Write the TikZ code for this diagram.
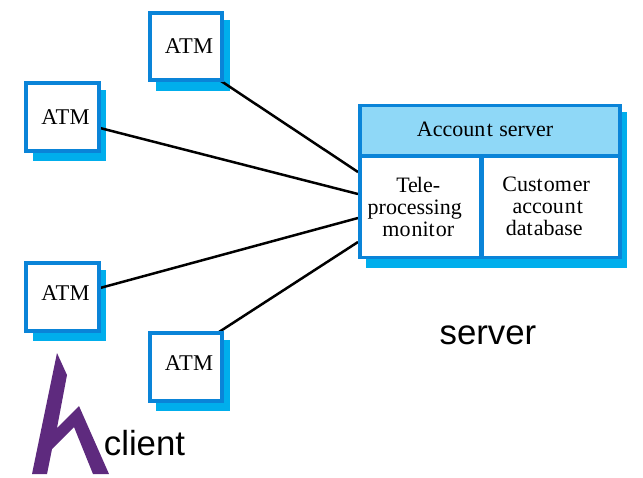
\documentclass[tikz,border=0pt]{standalone}
\usepackage{fontspec}
\setmainfont{Liberation Serif}
\newfontfamily\labelfont{Liberation Sans}
\definecolor{boxblue}{HTML}{0A84D8}
\definecolor{shadowblue}{HTML}{00AEEC}
\definecolor{headblue}{HTML}{8FD8F7}
\definecolor{hatpurple}{HTML}{5E2A7E}
\tikzset{
  atmbox/.style={draw=boxblue,fill=white,line width=3.6pt,minimum width=72.5pt,minimum height=67.5pt,inner sep=0pt,font=\fontsize{22.5}{22}\selectfont},
  cell/.style={draw=boxblue,line width=3.6pt,inner sep=0pt,align=center,font=\fontsize{22}{22}\selectfont},
  shade/.style={fill=shadowblue},
  link/.style={draw=black,line width=2.5pt},
  biglabel/.style={font=\labelfont\fontsize{34.8}{36}\selectfont,inner sep=0pt,anchor=base}
}
\newcommand{\atmtext}{\hspace*{6pt}A\kern-2pt T\kern0.5pt M}
\newcommand{\atmlow}{\raisebox{7pt}{\atmtext}}
\begin{document}
\begin{tikzpicture}[x=1pt,y=-1pt]
\useasboundingbox (0,0) rectangle (643,477);
% shadows
\fill[shade] (156,20) rectangle (230,91);
\fill[shade] (33,90) rectangle (106,161);
\fill[shade] (33,270) rectangle (106,341);
\fill[shade] (156,340) rectangle (230,411);
\fill[shade] (366,112) rectangle (627,268);
% anchor points on the server edge
\coordinate (s1) at (358,172);
\coordinate (s2) at (358,194);
\coordinate (s3) at (358,218);
\coordinate (s4) at (358,242);
\coordinate (a1) at (221,81);
\coordinate (a2) at (100,128);
\coordinate (a3) at (100,288);
\coordinate (a4) at (219,332);
\draw[link] (a1) -- (s1);
\draw[link] (a2) -- (s2);
\draw[link] (a3) -- (s3);
\draw[link] (a4) -- (s4);
% ATM boxes
\node[atmbox] (atm1) at (186,46.5) {\atmtext};
\node[atmbox] (atm2) at (62.5,117) {\atmtext};
\node[atmbox] (atm3) at (62.5,297) {\atmlow};
\node[atmbox] (atm4) at (186,367) {\atmlow};
% server
\node[cell,fill=headblue,minimum width=260pt,minimum height=50.5pt] (head) at (490,130.75) {\raisebox{4pt}{\hspace*{-10pt}Accoun\kern1.5pt t\kern1pt\ server}};
\node[cell,fill=white,minimum width=120.5pt,minimum height=101.5pt] (tele) at (420.25,206.75)
  {\hspace*{-4pt}Te\kern-1pt le-\\\hspace*{-11pt}processing\\\hspace*{-4pt}mo\kern1pt nit\kern1pt or};
\node[cell,fill=white,minimum width=137.5pt,minimum height=101.5pt] (cust) at (551.25,206.75)
  {\hspace*{-10pt}Cust\kern1pt om\kern1pt er\\\hspace*{-7pt}accou\kern1pt n\kern1pt t\\\hspace*{-14pt}dat\kern1pt abase};
% labels
\node[biglabel] (srv) at (488,344) {server};
\node[biglabel] (cli) at (144.5,455) {client};
% hat symbol
\fill[hatpurple] (57,353) -- (67,375) -- (57,428) -- (79,406) -- (109,474) -- (93,474) -- (74,427) -- (52,449) -- (47,474) -- (32,474) -- cycle;
\end{tikzpicture}
\end{document}
